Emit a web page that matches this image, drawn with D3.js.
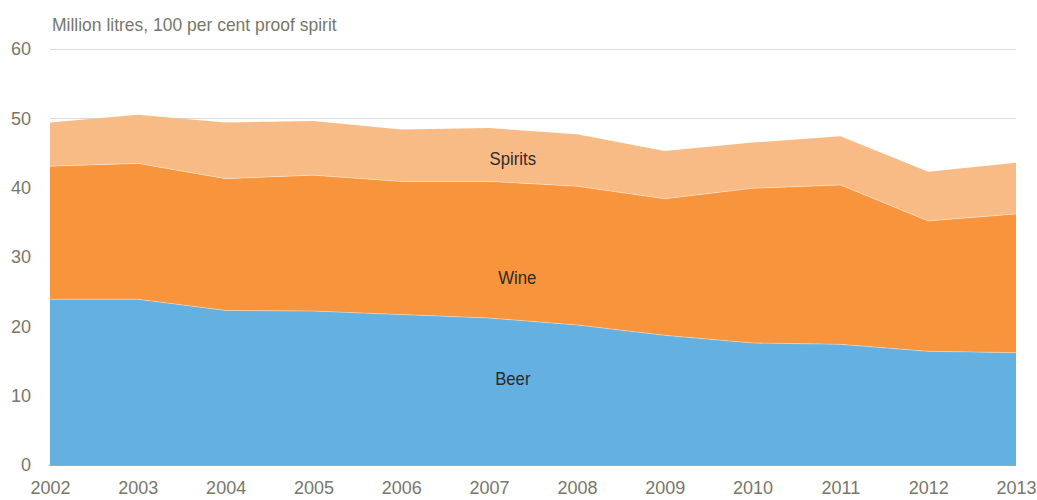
<!DOCTYPE html>
<html>
<head>
<meta charset="utf-8">
<script src="https://cdn.jsdelivr.net/npm/d3@7"></script>
<style>
  body { margin: 0; background: #fff; }
  svg { display: block; font-family: "Liberation Sans", Arial, sans-serif; }
</style>
</head>
<body>
<svg id="chart" width="1037" height="500"></svg>
<script>
// Alcohol consumption by type, million litres of pure alcohol
const years = [2002, 2003, 2004, 2005, 2006, 2007, 2008, 2009, 2010, 2011, 2012, 2013];
const beer = [23.9, 23.9, 22.3, 22.2, 21.7, 21.2, 20.2, 18.7, 17.6, 17.4, 16.4, 16.2];
const wine = [19.2, 19.6, 19.0, 19.6, 19.2, 19.7, 20.0, 19.7, 22.3, 23.0, 18.8, 20.0];
const spirits = [6.3, 7.0, 8.1, 7.8, 7.5, 7.7, 7.5, 6.9, 6.6, 7.0, 7.1, 7.4];
const seriesNames = ["Beer", "Wine", "Spirits"];
const yTicks = [0, 10, 20, 30, 40, 50, 60];

const colors = { Beer: "#63b0e1", Wine: "#f7943c", Spirits: "#f9bb86" };
const textGrey = "#77776a";

const svg = d3.select("#chart");
const margin = { top: 49, right: 21, bottom: 35, left: 50 };
const width = 1037, height = 500;

const x = d3.scaleLinear()
    .domain(d3.extent(years))
    .range([margin.left, width - margin.right]);

const y = d3.scaleLinear()
    .domain([0, 60])
    .range([height - margin.bottom, margin.top]);

const table = years.map((yr, i) => ({ year: yr, Beer: beer[i], Wine: wine[i], Spirits: spirits[i] }));
const stacked = d3.stack().keys(seriesNames)(table);

// title (slightly condensed like the original)
svg.append("text")
    .attr("transform", "translate(52,31) scale(0.94,1)")
    .attr("fill", textGrey)
    .style("font-size", "18.6px")
    .text("Million litres, 100 per cent proof spirit");

// gridlines
svg.append("g")
    .selectAll("line")
    .data(yTicks.slice(1))
    .join("line")
    .attr("x1", margin.left)
    .attr("x2", width - margin.right)
    .attr("y1", d => Math.round(y(d)) + 0.5)
    .attr("y2", d => Math.round(y(d)) + 0.5)
    .attr("stroke", "#d9d9d9");

// stacked areas
const area = d3.area()
    .x(d => x(d.data.year))
    .y0(d => y(d[0]))
    .y1(d => y(d[1]));

svg.append("g")
    .selectAll("path")
    .data(stacked)
    .join("path")
    .attr("fill", d => colors[d.key])
    .attr("d", area);

// thin light edges between layers
const edge = d3.line()
    .x(d => x(d.data.year))
    .y(d => y(d[1]));

svg.append("g")
    .selectAll("path")
    .data(stacked.slice(0, 2))
    .join("path")
    .attr("fill", "none")
    .attr("stroke", "#fff")
    .attr("stroke-opacity", 0.35)
    .attr("stroke-width", 1)
    .attr("d", edge);

// baseline
svg.append("line")
    .attr("x1", margin.left - 1)
    .attr("x2", width - margin.right)
    .attr("y1", Math.round(y(0)) + 0.5)
    .attr("y2", Math.round(y(0)) + 0.5)
    .attr("stroke", "#a6a6a6");

// y axis labels
const yAxis = svg.append("g")
    .attr("transform", "translate(31,0)")
    .call(d3.axisLeft(y).tickValues(yTicks).tickSize(0).tickPadding(0));
yAxis.select(".domain").remove();
yAxis.selectAll("text")
    .attr("fill", textGrey)
    .attr("font-family", null)
    .style("font-size", "18px");

// x axis labels
const xAxis = svg.append("g")
    .attr("transform", `translate(0,${height - margin.bottom})`)
    .call(d3.axisBottom(x).tickValues(years).tickFormat(d3.format("d")).tickSize(0).tickPadding(16));
xAxis.select(".domain").remove();
xAxis.selectAll("text")
    .attr("fill", textGrey)
    .attr("font-family", null)
    .style("font-size", "18px");

// series labels inside the areas
const labelPos = [
    { name: "Beer", year: 2007.27, value: 11.5 },
    { name: "Wine", year: 2007.32, value: 26.1 },
    { name: "Spirits", year: 2007.27, value: 43.2 }
];
svg.append("g")
    .selectAll("text")
    .data(labelPos)
    .join("text")
    .attr("transform", d => `translate(${x(d.year)},${y(d.value)}) scale(0.93,1)`)
    .attr("text-anchor", "middle")
    .attr("fill", "#2b2b2b")
    .style("font-size", "18px")
    .text(d => d.name);
</script>
</body>
</html>
